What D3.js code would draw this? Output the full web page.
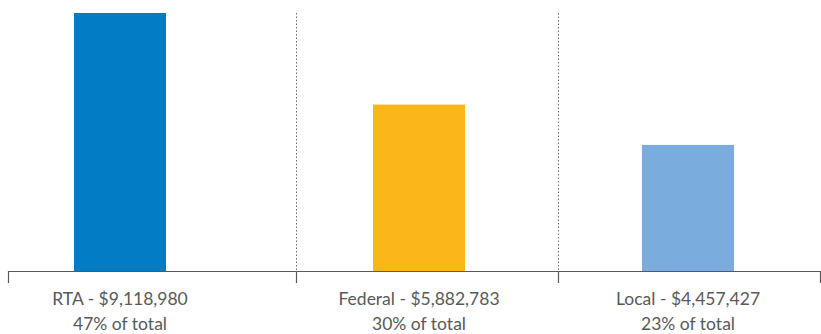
<!DOCTYPE html>
<html>
<head>
<meta charset="utf-8">
<script src="https://cdn.jsdelivr.net/npm/d3@7"></script>
<style>
  body { margin: 0; background: #fff; }
  svg { display: block; }
  .lbl { font-family: Lato, "Open Sans", sans-serif; fill: #595959; }
</style>
</head>
<body>
<svg width="821" height="334"></svg>
<script>
// chart data
const categories = ["RTA", "Federal", "Local"];
const amounts = [9118980, 5882783, 4457427];
const shares = ["47%", "30%", "23%"];
const colors = ["#007DC5", "#FBB619", "#7AADDE"];

const svg = d3.select("svg");
const baseY = 271, topY = 13;

// bar centres sit a bit off the group middles in the original, so map them directly
const x = d3.scaleOrdinal().domain(categories).range([120, 419, 688]);
const barW = 92;
const y = d3.scaleLinear().domain([0, d3.max(amounts)]).range([baseY, topY]);

const fmt = d3.format("$,");

// dotted separators between groups
svg.selectAll("line.sep")
  .data([296, 558])
  .enter().append("line")
  .attr("class", "sep")
  .attr("x1", d => d + 0.5).attr("x2", d => d + 0.5)
  .attr("y1", topY).attr("y2", baseY)
  .attr("stroke", "#6f6f6f")
  .attr("stroke-dasharray", "1.5,2");

svg.selectAll("rect.bar")
  .data(categories)
  .enter().append("rect")
  .attr("class", "bar")
  .attr("x", d => x(d) - barW / 2)
  .attr("width", barW)
  .attr("y", (d, i) => y(amounts[i]))
  .attr("height", (d, i) => baseY - y(amounts[i]))
  .attr("fill", (d, i) => colors[i]);

// axis line + tick marks
svg.append("line")
  .attr("x1", 8).attr("x2", 821)
  .attr("y1", baseY + 0.5).attr("y2", baseY + 0.5)
  .attr("stroke", "#595959").attr("stroke-width", 1.2);

svg.selectAll("line.tick")
  .data([8, 296, 558, 820])
  .enter().append("line")
  .attr("class", "tick")
  .attr("x1", d => d + 0.5).attr("x2", d => d + 0.5)
  .attr("y1", baseY).attr("y2", baseY + 12)
  .attr("stroke", "#595959").attr("stroke-width", 1.2);

const labels = svg.selectAll("g.lab")
  .data(categories)
  .enter().append("g")
  .attr("class", "lab")
  .attr("transform", d => "translate(" + x(d) + ",0)");

labels.append("text")
  .attr("class", "lbl")
  .attr("text-anchor", "middle")
  .attr("y", 305)
  .style("font-size", "17.5px")
  .text((d, i) => d + " - " + fmt(amounts[i]));

labels.append("text")
  .attr("class", "lbl")
  .attr("text-anchor", "middle")
  .attr("y", 330)
  .style("font-size", "17.5px")
  .text((d, i) => shares[i] + " of total");
</script>
</body>
</html>
